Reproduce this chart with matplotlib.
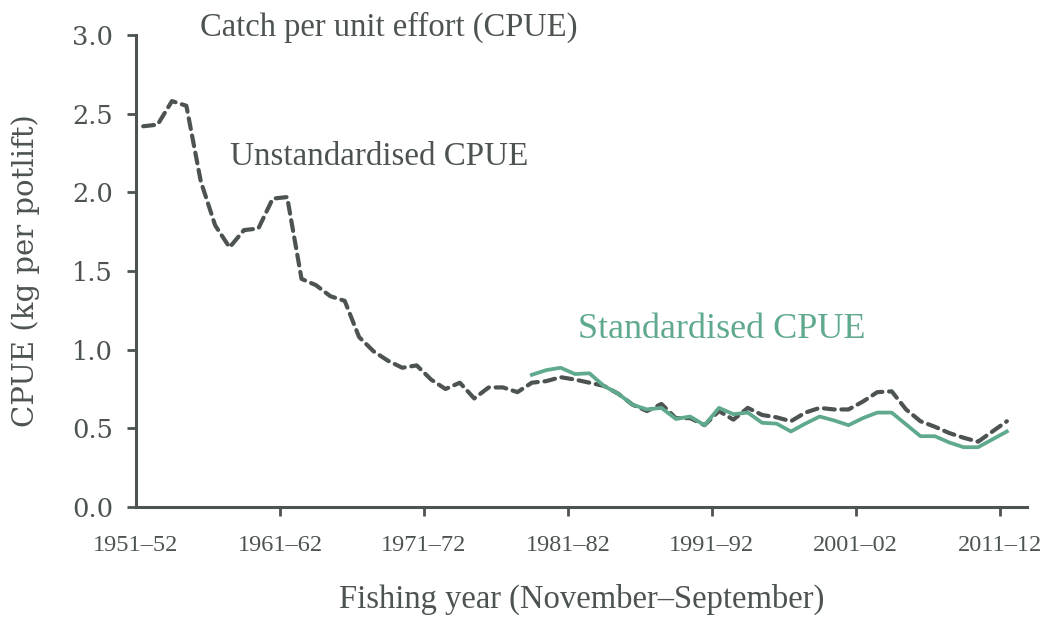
import matplotlib
matplotlib.use("Agg")
import matplotlib.pyplot as plt
import numpy as np

# Fishing years (start year), 1951-52 .. 2011-12
years = list(range(1951, 2012))
unstandardised = [
    2.42, 2.43, 2.58, 2.55, 2.07, 1.79, 1.65, 1.76, 1.77, 1.96,
    1.97, 1.45, 1.41, 1.34, 1.31, 1.08, 0.99, 0.93, 0.885, 0.90,
    0.81, 0.75, 0.79, 0.69, 0.76, 0.76, 0.73, 0.79, 0.80, 0.825,
    0.81, 0.79, 0.77, 0.72, 0.65, 0.61, 0.655, 0.565, 0.565, 0.52,
    0.61, 0.555, 0.63, 0.585, 0.57, 0.545, 0.60, 0.63, 0.62, 0.62,
    0.67, 0.73, 0.735, 0.62, 0.545, 0.51, 0.47, 0.44, 0.415, 0.48,
    0.545,
]
std_years = list(range(1978, 2012))
standardised = [
    0.84, 0.87, 0.885, 0.845, 0.85, 0.77, 0.72, 0.65, 0.62, 0.63,
    0.56, 0.575, 0.52, 0.63, 0.59, 0.60, 0.535, 0.53, 0.48, 0.53,
    0.575, 0.55, 0.52, 0.565, 0.60, 0.60, 0.525, 0.45, 0.45, 0.41,
    0.38, 0.38, 0.43, 0.48,
]
tick_years = [1951, 1961, 1971, 1981, 1991, 2001, 2011]
tick_labels = ["1951–52", "1961–62", "1971–72", "1981–82", "1991–92", "2001–02", "2011–12"]
y_ticks = [0.0, 0.5, 1.0, 1.5, 2.0, 2.5, 3.0]

dark = "#4c5352"
green = "#5fa98d"
plt.rcParams['font.family'] = ['Liberation Serif', 'DejaVu Serif']
wide = ['DejaVu Serif']

fig = plt.figure(figsize=(10.62, 6.17), dpi=100)
ax = fig.add_axes([136/1062, 110/617, 891/1062, 472/617])

x_u = np.array(years) + 0.5
x_s = np.array(std_years) + 0.5
ax.plot(x_u, unstandardised, color=dark, lw=3.0, dashes=(2.6, 1.6),
        dash_capstyle='round', solid_joinstyle='round')
ax.plot(x_s, standardised, color=green, lw=2.7, solid_joinstyle='round')

ax.set_xlim(1951, 2012.9)
ax.set_ylim(0, 3.0)
for s in ['top', 'right']:
    ax.spines[s].set_visible(False)
for s in ['left', 'bottom']:
    ax.spines[s].set_linewidth(2.2)
    ax.spines[s].set_color(dark)

ax.set_xticks(tick_years[1:])
ax.set_xticklabels(tick_labels[1:], fontsize=17.5)
ax.set_yticks(y_ticks)
ax.set_yticklabels([f"{v:.1f}" for v in y_ticks], family=wide, fontsize=18.5)
ax.tick_params(axis='both', direction='out', length=6.5, width=2.0, color=dark,
               labelcolor=dark)
ax.tick_params(axis='x', pad=14)
ax.tick_params(axis='y', pad=10)
# first x label at the axis origin
ax.text(1951, -0.245, tick_labels[0], ha='center', va='center', fontsize=17.5,
        color=dark, transform=ax.transData, clip_on=False)

ax.set_xlabel("Fishing year (November–September)", fontsize=23.5, color=dark, labelpad=20)
ax.set_ylabel("CPUE (kg per potlift)", family=wide, fontsize=21, color=dark)
ax.yaxis.set_label_coords(-0.108, 0.5)

fig.text(200/1062, 1 - 27/617, "Catch per unit effort (CPUE)", fontsize=23.5,
         color=dark, ha='left', va='center')
ax.text(1957.5, 2.225, "Unstandardised CPUE", fontsize=23.8, color=dark,
        ha='left', va='center')
ax.text(1981.7, 1.13, "Standardised CPUE", fontsize=26, color=green,
        ha='left', va='center')

fig.savefig("out.png", dpi=100)
